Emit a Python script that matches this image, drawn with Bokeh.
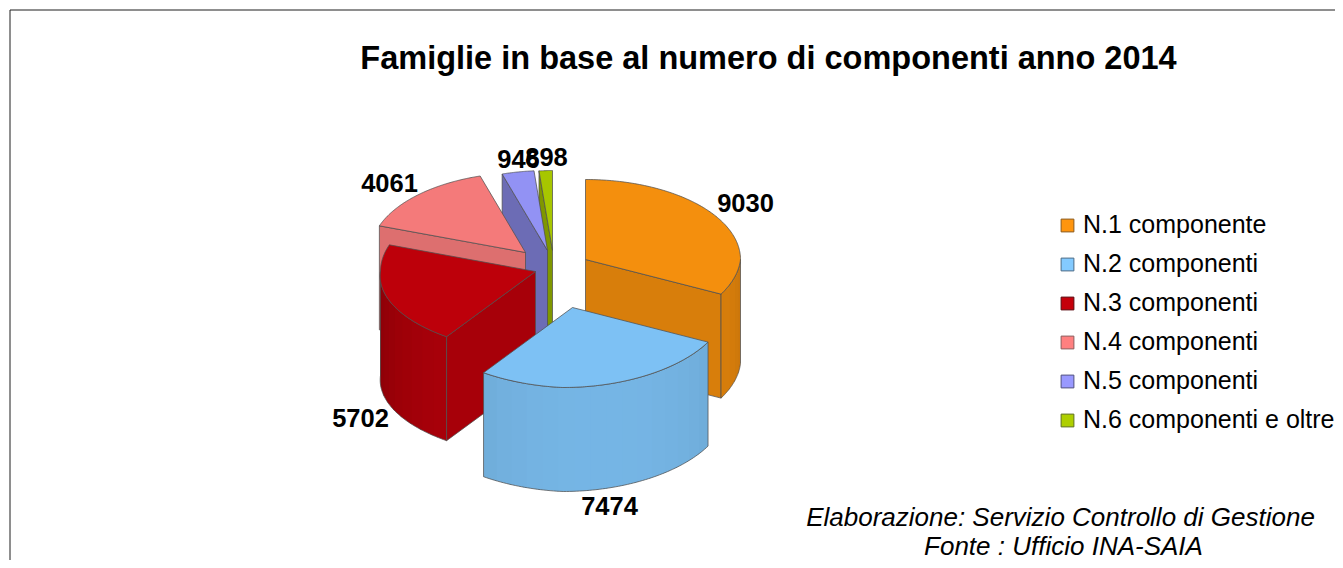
import numpy as np
from bokeh.plotting import figure
from bokeh.models import Range1d, Legend, LegendItem
from bokeh.core.properties import value
from bokeh.embed import file_html
from bokeh.resources import INLINE

# ---- data
categories = ["N.1 componente", "N.2 componenti", "N.3 componenti",
              "N.4 componenti", "N.5 componenti", "N.6 componenti e oltre"]
families = [9030, 7474, 5702, 4061, 946, 898]
title_text = "Famiglie in base al numero di componenti anno 2014"
note_lines = ["Elaborazione: Servizio Controllo di Gestione", "Fonte : Ufficio INA-SAIA"]

# ---- styles
legend_colors = ["#ff950e", "#83caff", "#c5000b", "#ff8080", "#9999ff", "#aecf00"]
legend_edges = ["#8a5a1c", "#4a6a85", "#5a0a10", "#8a5c5c", "#50507f", "#5f7020"]
radial_shade = [0.85, 0.88, 0.85, 0.87, 0.71, 0.73]

# ---- layout of the 3D projection (screen px)
exploded_centres = [(585, 259), (572, 307), (535, 271), (525, 252), (547, 250), (552, 250)]
label_centres = [(745, 202), (609, 505), (360, 417), (389, 182), (518, 158), (546, 156)]
RX, RY, DEPTH = 155.0, 80.0, 104.0
NEAR_SHEAR, LEFT_SKEW = 9.7, 7.0
# the original's camera distortion of the angles, pie angle -> drawn angle
WARP_IN = [0, 270, 284.4, 336.4, 348.5, 360]
WARP_OUT = [0, 270, 289.5, 343, 355, 360]


def rim(centre, deg, drop=0.0):
    t = np.radians(np.interp(deg, WARP_IN, WARP_OUT))
    s, c = np.sin(t), np.cos(t)
    x = centre[0] + RX * s + NEAR_SHEAR * np.minimum(0, c)
    y = centre[1] - RY * c + LEFT_SKEW * np.minimum(0, s) * np.maximum(0, -c) + drop
    return x, y


def tint(color, k):
    r, g, b = (int(color[i:i + 2], 16) for i in (1, 3, 5))
    return "#%02x%02x%02x" % (int(r * k), int(g * k), int(b * k))


def wall_shade(deg):
    return 0.90 - 2e-5 * (deg - 165) ** 2


p = figure(width=1335, height=560, x_range=Range1d(0, 1335), y_range=Range1d(560, 0),
           output_backend="svg", toolbar_location=None, min_border=0,
           outline_line_color=None, background_fill_color="white")
p.axis.visible = False
p.grid.visible = False

# frame of the original picture (its right and bottom edges are cut off)
p.line(x=[9.5, 9.5, 1335], y=[560, 9.5, 9.5], line_color="#1f1f1f", line_width=1)

EDGE = "#505050"
ends = np.cumsum(families) / sum(families) * 360
starts = np.concatenate(([0], ends[:-1]))

# painter's order: back slices first
for i in [5, 4, 3, 0, 2, 1]:
    c, a0, a1 = exploded_centres[i], starts[i], ends[i]
    base = tint(legend_colors[i], 0.96)
    shade = tint(legend_colors[i], radial_shade[i])

    # the radial cut face turned towards the viewer
    face_deg = None
    if np.sin(np.radians(a1)) > 0:
        face_deg = a1
    elif np.sin(np.radians(a0)) < 0:
        face_deg = a0
    if face_deg is not None:
        rx, ry = rim(c, face_deg)
        p.patch(x=[c[0], rx, rx, c[0]], y=[c[1], ry, ry + DEPTH, c[1] + DEPTH],
                fill_color=shade, line_color=EDGE, line_width=0.75)

    # the curved outer wall, in overlapping bands (each band overpaints the seam)
    lo, hi = max(a0, 90), min(a1, 270)
    if lo < hi:
        marks = np.arange(lo, hi, 6.0).tolist() + [hi]
        for d0, d1 in zip(marks[:-1], marks[1:]):
            arc = np.linspace(d0, min(d1 + 1.5, hi), 8)
            tx, ty = rim(c, arc)
            bx, by = rim(c, arc, DEPTH)
            col = tint(legend_colors[i], wall_shade((d0 + d1) / 2))
            p.patch(x=np.concatenate((tx, bx[::-1])), y=np.concatenate((ty, by[::-1])),
                    fill_color=col, line_color=None)
        arc = np.linspace(lo, hi, 80)
        tx, ty = rim(c, arc)
        bx, by = rim(c, arc, DEPTH)
        p.patch(x=np.concatenate((tx, bx[::-1])), y=np.concatenate((ty, by[::-1])),
                fill_color=None, line_color=EDGE, line_width=0.75)

    # the top face
    arc = np.linspace(a0, a1, 120)
    tx, ty = rim(c, arc)
    p.patch(x=np.concatenate(([c[0]], tx)), y=np.concatenate(([c[1]], ty)),
            fill_color=base, line_color=EDGE, line_width=0.75)

# value labels
p.text(x=[q[0] for q in label_centres], y=[q[1] for q in label_centres],
       text=[str(v) for v in families], text_font=value("Liberation Sans"),
       text_font_style="bold", text_font_size="25.5px", text_align="center",
       text_baseline="middle", text_color="black")

# title and notes
p.text(x=[768], y=[57], text=[title_text], text_font=value("Liberation Sans"),
       text_font_style="bold", text_font_size="32.5px", text_align="center",
       text_baseline="middle", text_color="black")
p.text(x=[1060, 1063], y=[516, 545], text=note_lines, text_font=value("Liberation Sans"),
       text_font_style="italic", text_font_size="26px", text_align="center",
       text_baseline="middle", text_color="black")

# legend
items = []
for name, col, edge in zip(categories, legend_colors, legend_edges):
    r = p.quad(left=[float("nan")], right=[float("nan")], top=[float("nan")], bottom=[float("nan")],
               fill_color=col, line_color=edge, line_width=1)
    items.append(LegendItem(label=name, renderers=[r]))
legend = Legend(items=items, location=(1059, 126), padding=0, margin=0, spacing=10,
                glyph_width=16, glyph_height=16, label_standoff=8, label_height=16,
                label_text_font="Liberation Sans", label_text_font_size="25px",
                label_text_color="black", background_fill_alpha=0, border_line_color=None)
p.add_layout(legend, "center")

open("out.html", "w").write(file_html(p, INLINE))
